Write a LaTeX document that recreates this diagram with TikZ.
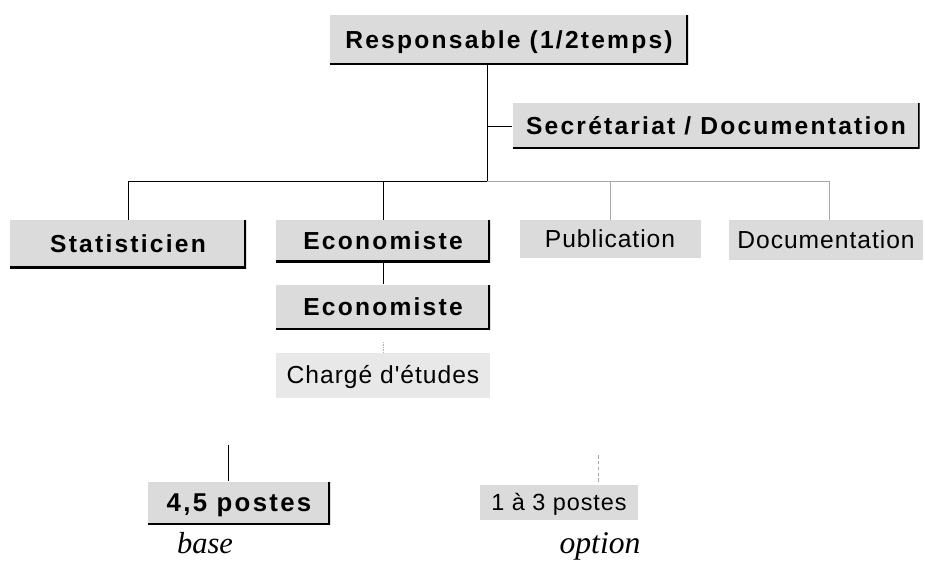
\documentclass[tikz,border=0pt]{standalone}
\usepackage{fontspec}
\setmainfont{Liberation Serif}
\setsansfont{Liberation Sans}
\newfontfamily\widefont[LetterSpace=9]{Liberation Sans}
\newfontfamily\medfont[LetterSpace=4]{Liberation Sans}
\begin{document}
\begin{tikzpicture}[x=0.03cm,y=-0.03cm,thick,
	box/.style={rectangle,fill=gray!28,inner sep=0pt,text height=14pt,text depth=0pt,font=\medfont\fontsize{21}{24}\selectfont},
	shadow box/.style={box,font=\widefont\bfseries\fontsize{21}{24}\selectfont,
		path picture={\draw[line width=3.2pt] (path picture bounding box.south west) -- (path picture bounding box.south east) -- (path picture bounding box.north east);}},
	label text/.style={anchor=base,font=\rmfamily\itshape\fontsize{26}{30}\selectfont}]

	\useasboundingbox (0,0) rectangle (925,567);

	\node[shadow box,minimum width=358*0.03cm,minimum height=50*0.03cm] (resp) at (509,40) {Responsable (1/2temps)};
	\node[shadow box,minimum width=407*0.03cm,minimum height=45*0.03cm] (secr) at (716,126) {Secrétariat / Documentation};
	\node[shadow box,minimum width=236*0.03cm,minimum height=48*0.03cm] (stat) at (128,244) {Statisticien};
	\node[shadow box,minimum width=214*0.03cm,minimum height=42*0.03cm] (eco1) at (383,241) {Economiste};
	\node[shadow box,minimum width=214*0.03cm,minimum height=45*0.03cm] (eco2) at (383,307) {Economiste};
	\node[box,fill=gray!18,minimum width=214*0.03cm,minimum height=45*0.03cm] (charge) at (383,375) {Chargé d'études};
	\node[box,minimum width=181*0.03cm,minimum height=38*0.03cm] (pub) at (610,239) {Publication};
	\node[box,minimum width=194*0.03cm,minimum height=40*0.03cm] (doc) at (826,240) {Documentation};
	\node[shadow box,minimum width=182*0.03cm,minimum height=43*0.03cm,font=\widefont\bfseries\fontsize{22}{25}\selectfont] (poste1) at (239,503) {4,5 postes};
	\node[box,minimum width=158*0.03cm,minimum height=35*0.03cm,font=\medfont\fontsize{20}{23}\selectfont] (poste2) at (559,502) {1 à 3 postes};
	\node[label text] (base) at (205,553) {base};
	\node[label text,font=\rmfamily\itshape\fontsize{27}{30}\selectfont] (option) at (600,553) {option};

	\coordinate (j) at (487,181);
	\coordinate (d) at (829,181);
	\coordinate (t1) at (228,445);
	\coordinate (t2) at (598,455);

	\draw (resp.south -| j) -- (j);
	\draw (j |- secr.west) -- (secr.west);
	\draw (stat.north |- j) -- (j);
	\draw[gray!70,thin] (j) -- (d);
	\draw (stat.north |- j) -- (stat.north);
	\draw (eco1.north |- j) -- (eco1.north);
	\draw[gray!70,thin] (pub.north |- j) -- (pub.north);
	\draw[gray!70,thin] (d) -- ([xshift=3*0.03cm]doc.north);
	\draw (eco1.south) -- (eco2.north);
	\draw[gray!60,thin,densely dotted] (eco2.south) ++(0,12) -- (charge.north);
	\draw (t1) -- (t1 |- poste1.north);
	\draw[gray!70,thin,densely dashed] (t2) -- (t2 |- poste2.north);

\end{tikzpicture}
\end{document}
